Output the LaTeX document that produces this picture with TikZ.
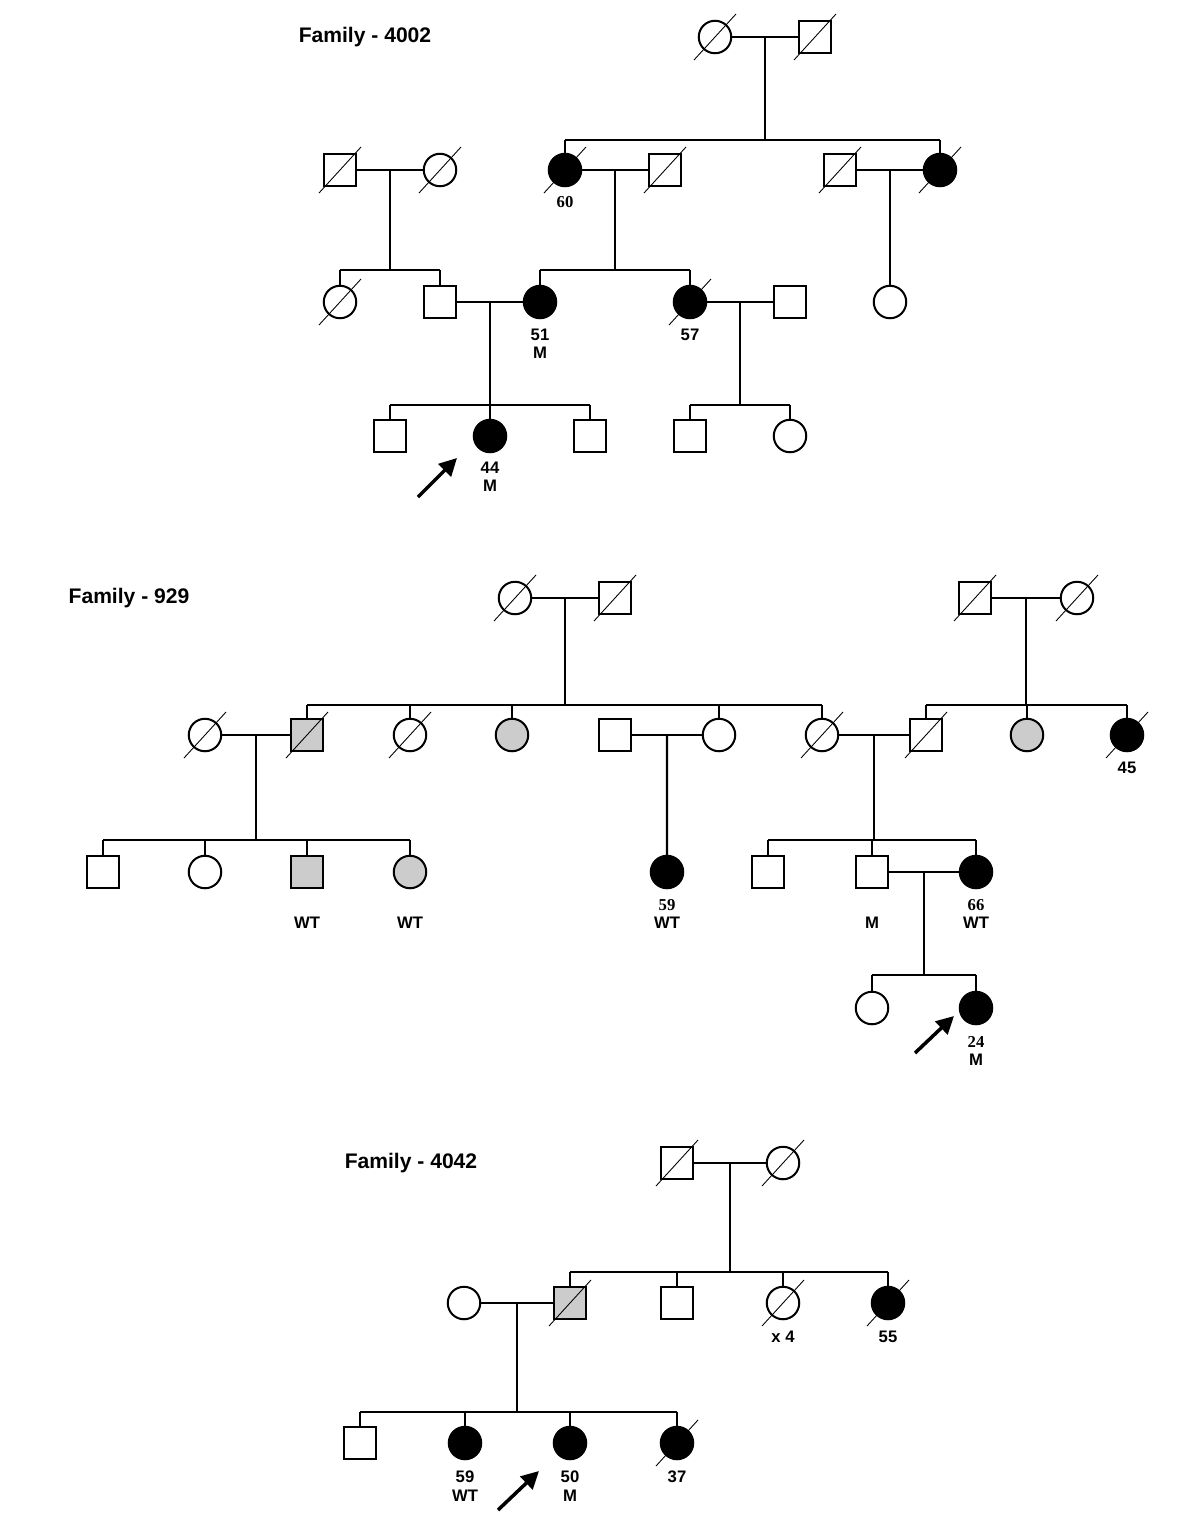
\documentclass[tikz,border=0pt]{standalone}
\usepackage{fontspec}
\setmainfont{Liberation Sans}
\newfontfamily\agefont{Liberation Serif}
\usetikzlibrary{calc,arrows.meta}

\tikzset{
  male/.style={draw, rectangle, minimum size=0.63cm, inner sep=0pt},
  female/.style={draw, circle, minimum size=0.65cm, inner sep=0pt},
  aff/.style={fill=black},
  carrier/.style={fill=gray!40},
  slash/.style={line width=0.5pt},
  lab/.style={font=\bfseries\fontsize{9.5}{10.5}\selectfont, align=center, inner sep=0pt},
  famtitle/.style={font=\bfseries\fontsize{12}{14}\selectfont},
  proband/.style={line width=2pt, -{Triangle[length=10pt,width=10pt]}},
}

\begin{document}
\begin{tikzpicture}[x=0.02cm, y=-0.02cm, line width=1.15pt]

    \useasboundingbox (0,0) rectangle (1200,1536);

    % ---------------- Family 4002 ----------------
    \node[famtitle] (ta) at (365,37) {Family - 4002};

    \node[female] (a1) at (715,37) {};
    \node[male]   (a2) at (815,37) {};

    \node[male]       (a3) at (340,170) {};
    \node[female]     (a4) at (440,170) {};
    \node[female,aff] (a5) at (565,170) {};
    \node[male]       (a6) at (665,170) {};
    \node[male]       (a7) at (840,170) {};
    \node[female,aff] (a8) at (940,170) {};

    \node[female]     (a9)  at (340,302) {};
    \node[male]       (a10) at (440,302) {};
    \node[female,aff] (a11) at (540,302) {};
    \node[female,aff] (a12) at (690,302) {};
    \node[male]       (a13) at (790,302) {};
    \node[female]     (a14) at (890,302) {};

    \node[male]       (a15) at (390,436) {};
    \node[female,aff] (a16) at (490,436) {};
    \node[male]       (a17) at (590,436) {};
    \node[male]       (a18) at (690,436) {};
    \node[female]     (a19) at (790,436) {};

    \node[lab] (la5)  at (565,202) {\agefont 60};
    \node[lab] (la11) at (540,344) {51\\M};
    \node[lab] (la12) at (690,335) {57};
    \node[lab] (la16) at (490,477) {44\\M};

    \draw (a1) -- (a2);
    \coordinate (ma1) at ($(a1)!.5!(a2)$);
    \coordinate (sa1) at (ma1 |- 0,140);
    \draw (ma1) -- (sa1);
    \draw (a5 |- sa1) -- (a8 |- sa1);
    \foreach \k in {a5,a8} \draw (\k) -- (\k |- sa1);

    \draw (a3) -- (a4);
    \coordinate (ma2) at ($(a3)!.5!(a4)$);
    \coordinate (sa2) at (ma2 |- 0,270);
    \draw (ma2) -- (sa2);
    \draw (a9 |- sa2) -- (a10 |- sa2);
    \foreach \k in {a9,a10} \draw (\k) -- (\k |- sa2);

    \draw (a5) -- (a6);
    \coordinate (ma3) at ($(a5)!.5!(a6)$);
    \coordinate (sa3) at (ma3 |- 0,270);
    \draw (ma3) -- (sa3);
    \draw (a11 |- sa3) -- (a12 |- sa3);
    \foreach \k in {a11,a12} \draw (\k) -- (\k |- sa3);

    \draw (a7) -- (a8);
    \coordinate (ma4) at ($(a7)!.5!(a8)$);
    \draw (ma4) -- (a14);

    \draw (a10) -- (a11);
    \coordinate (ma5) at ($(a10)!.5!(a11)$);
    \coordinate (sa5) at (ma5 |- 0,405);
    \draw (ma5) -- (sa5);
    \draw (a15 |- sa5) -- (a17 |- sa5);
    \foreach \k in {a15,a16,a17} \draw (\k) -- (\k |- sa5);

    \draw (a12) -- (a13);
    \coordinate (ma6) at ($(a12)!.5!(a13)$);
    \coordinate (sa6) at (ma6 |- 0,405);
    \draw (ma6) -- (sa6);
    \draw (a18 |- sa6) -- (a19 |- sa6);
    \foreach \k in {a18,a19} \draw (\k) -- (\k |- sa6);

    \coordinate (pa0) at (418,497);
    \coordinate (pa1) at (457,458);
    \draw[proband] (pa0) -- (pa1);

    % ---------------- Family 929 ----------------
    \node[famtitle] (tb) at (129,598) {Family - 929};

    \node[female] (b1) at (515,598) {};
    \node[male]   (b2) at (615,598) {};
    \node[male]   (b3) at (975,598) {};
    \node[female] (b4) at (1077,598) {};

    \node[female]         (b5)  at (205,735) {};
    \node[male,carrier]   (b6)  at (307,735) {};
    \node[female]         (b7)  at (410,735) {};
    \node[female,carrier] (b8)  at (512,735) {};
    \node[male]           (b9)  at (615,735) {};
    \node[female]         (b10) at (719,735) {};
    \node[female]         (b11) at (822,735) {};
    \node[male]           (b12) at (926,735) {};
    \node[female,carrier] (b13) at (1027,735) {};
    \node[female,aff]     (b14) at (1127,735) {};

    \node[male]           (b15) at (103,872) {};
    \node[female]         (b16) at (205,872) {};
    \node[male,carrier]   (b17) at (307,872) {};
    \node[female,carrier] (b18) at (410,872) {};
    \node[female,aff]     (b19) at (667,872) {};
    \node[male]           (b20) at (768,872) {};
    \node[male]           (b21) at (872,872) {};
    \node[female,aff]     (b22) at (976,872) {};

    \node[female]     (b23) at (872,1008) {};
    \node[female,aff] (b24) at (976,1008) {};

    \node[lab] (lb14) at (1127,768) {45};
    \node[lab] (lb17) at (307,923) {WT};
    \node[lab] (lb18) at (410,923) {WT};
    \node[lab] (lb19) at (667,914) {{\agefont 59}\\WT};
    \node[lab] (lb21) at (872,923) {M};
    \node[lab] (lb22) at (976,914) {{\agefont 66}\\WT};
    \node[lab] (lb24) at (976,1051) {{\agefont 24}\\M};

    \draw (b1) -- (b2);
    \coordinate (mb1) at ($(b1)!.5!(b2)$);
    \coordinate (sb1) at (mb1 |- 0,705);
    \draw (mb1) -- (sb1);
    \draw (b6 |- sb1) -- (b11 |- sb1);
    \foreach \k in {b6,b7,b8,b10,b11} \draw (\k) -- (\k |- sb1);

    \draw (b3) -- (b4);
    \coordinate (mb2) at ($(b3)!.5!(b4)$);
    \coordinate (sb2) at (mb2 |- 0,705);
    \draw (mb2) -- (sb2);
    \draw (b12 |- sb2) -- (b14 |- sb2);
    \foreach \k in {b12,b13,b14} \draw (\k) -- (\k |- sb2);

    \draw (b5) -- (b6);
    \coordinate (mb3) at ($(b5)!.5!(b6)$);
    \coordinate (sb3) at (mb3 |- 0,840);
    \draw (mb3) -- (sb3);
    \draw (b15 |- sb3) -- (b18 |- sb3);
    \foreach \k in {b15,b16,b17,b18} \draw (\k) -- (\k |- sb3);

    \draw (b9) -- (b10);
    \coordinate (mb4) at ($(b9)!.5!(b10)$);
    \draw (mb4) -- (b19);

    \draw (b11) -- (b12);
    \coordinate (mb5) at ($(b11)!.5!(b12)$);
    \coordinate (sb5) at (mb5 |- 0,840);
    \draw (mb5) -- (sb5);
    \draw (b20 |- sb5) -- (b22 |- sb5);
    \foreach \k in {b20,b21,b22} \draw (\k) -- (\k |- sb5);

    \draw (b21) -- (b22);
    \coordinate (mb6) at ($(b21)!.5!(b22)$);
    \coordinate (sb6) at (mb6 |- 0,975);
    \draw (mb6) -- (sb6);
    \draw (b23 |- sb6) -- (b24 |- sb6);
    \foreach \k in {b23,b24} \draw (\k) -- (\k |- sb6);

    \coordinate (pb0) at (915,1053);
    \coordinate (pb1) at (954,1016);
    \draw[proband] (pb0) -- (pb1);

    % ---------------- Family 4042 ----------------
    \node[famtitle] (tc) at (411,1163) {Family - 4042};

    \node[male]   (c1) at (677,1163) {};
    \node[female] (c2) at (783,1163) {};

    \node[female]       (c3) at (464,1303) {};
    \node[male,carrier] (c4) at (570,1303) {};
    \node[male]         (c5) at (677,1303) {};
    \node[female]       (c6) at (783,1303) {};
    \node[female,aff]   (c7) at (888,1303) {};

    \node[male]       (c8)  at (360,1443) {};
    \node[female,aff] (c9)  at (465,1443) {};
    \node[female,aff] (c10) at (570,1443) {};
    \node[female,aff] (c11) at (677,1443) {};

    \node[lab] (lc6)  at (783,1337) {x 4};
    \node[lab] (lc7)  at (888,1337) {55};
    \node[lab] (lc9)  at (465,1486) {59\\WT};
    \node[lab] (lc10) at (570,1486) {50\\M};
    \node[lab] (lc11) at (677,1477) {37};

    \draw (c1) -- (c2);
    \coordinate (mc1) at ($(c1)!.5!(c2)$);
    \coordinate (sc1) at (mc1 |- 0,1272);
    \draw (mc1) -- (sc1);
    \draw (c4 |- sc1) -- (c7 |- sc1);
    \foreach \k in {c4,c5,c6,c7} \draw (\k) -- (\k |- sc1);

    \draw (c3) -- (c4);
    \coordinate (mc2) at ($(c3)!.5!(c4)$);
    \coordinate (sc2) at (mc2 |- 0,1412);
    \draw (mc2) -- (sc2);
    \draw (c8 |- sc2) -- (c11 |- sc2);
    \foreach \k in {c8,c9,c10,c11} \draw (\k) -- (\k |- sc2);

    \coordinate (pc0) at (498,1510);
    \coordinate (pc1) at (539,1471);
    \draw[proband] (pc0) -- (pc1);

    % deceased
    \foreach \n in {a1,a2,a3,a4,a5,a6,a7,a8,a9,a12,
                    b1,b2,b3,b4,b5,b6,b7,b11,b12,b14,
                    c1,c2,c4,c6,c7,c11}
        \draw[slash] (\n) ++(-0.42cm,-0.46cm) -- ++(0.84cm,0.92cm);

\end{tikzpicture}
\end{document}
